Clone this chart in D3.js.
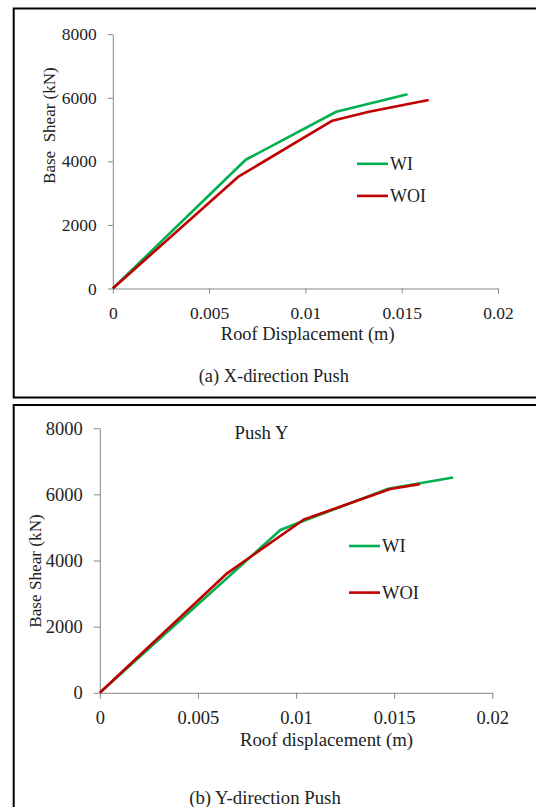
<!DOCTYPE html>
<html>
<head>
<meta charset="utf-8">
<script src="https://cdn.jsdelivr.net/npm/d3@7"></script>
<style>
  html, body { margin: 0; padding: 0; background: #ffffff; }
  svg { display: block; font-family: "Liberation Serif", "Times New Roman", serif; }
</style>
</head>
<body>
<div id="main_output"></div>
<script>
// tick values shared by both panels
var xTickValues = [0, 0.005, 0.01, 0.015, 0.02];
var yTickValues = [0, 2000, 4000, 6000, 8000];
var seriesNames = ["WI", "WOI"];

// (a) X-direction push - roof displacement (m) / base shear (kN)
var pushX_WI_disp  = [0, 0.0069, 0.0116, 0.0153];
var pushX_WI_shear = [0, 4050, 5560, 6110];
var pushX_WOI_disp  = [0, 0.0065, 0.0114, 0.0133, 0.0164];
var pushX_WOI_shear = [0, 3510, 5280, 5560, 5930];

// (b) Y-direction push
var pushY_WI_disp  = [0, 0.0092, 0.0104, 0.0147, 0.0180];
var pushY_WI_shear = [0, 4920, 5200, 6170, 6510];
var pushY_WOI_disp  = [0, 0.0065, 0.0104, 0.0148, 0.0163];
var pushY_WOI_shear = [0, 3620, 5240, 6160, 6310];

const green = "#00b050";
const red = "#c00000";
const axisGrey = "#868686";

var svg = d3.select("#main_output")
  .append("svg")
  .attr("width", 536)
  .attr("height", 807);

// panel frames (open on the right / bottom as in the scan)
svg.append("path")
  .attr("d", "M536,8.5 H13.7 V397.5 H536")
  .attr("fill", "none")
  .attr("stroke", "#000")
  .attr("stroke-width", 2);
svg.append("path")
  .attr("d", "M536,405 H13.7 V807")
  .attr("fill", "none")
  .attr("stroke", "#000")
  .attr("stroke-width", 2);

function zip(a, b) {
  return a.map(function(d, i) { return [d, b[i]]; });
}

function drawPanel(cfg) {
  var x = d3.scaleLinear().domain([0, 0.02]).range(cfg.xRange);
  var y = d3.scaleLinear().domain([0, 8000]).range(cfg.yRange);

  var g = svg.append("g");

  var xAxis = d3.axisBottom(x)
    .tickValues(xTickValues)
    .tickFormat(function(d) { return d === 0 ? "0" : String(+d.toFixed(3)); })
    .tickSizeInner(cfg.tick)
    .tickSizeOuter(0)
    .tickPadding(cfg.xPad);
  var yAxis = d3.axisLeft(y)
    .tickValues(yTickValues)
    .tickFormat(d3.format("d"))
    .tickSizeInner(cfg.tick)
    .tickSizeOuter(0)
    .tickPadding(cfg.yPad);

  var gx = g.append("g")
    .attr("transform", "translate(0," + y(0) + ")")
    .call(xAxis);
  var gy = g.append("g")
    .attr("transform", "translate(" + x(0) + ",0)")
    .call(yAxis);

  [gx, gy].forEach(function(a) {
    a.select(".domain").attr("stroke", axisGrey);
    a.selectAll(".tick line").attr("stroke", axisGrey);
    a.selectAll(".tick text")
      .attr("fill", "#222")
      .style("font-family", "Liberation Serif")
      .style("font-size", cfg.tickFont + "px");
  });
  gx.attr("font-family", null);
  gy.attr("font-family", null);

  var line = d3.line()
    .x(function(d) { return x(d[0]); })
    .y(function(d) { return y(d[1]); });

  cfg.series.forEach(function(s) {
    g.append("path")
      .datum(zip(s.disp, s.shear))
      .attr("fill", "none")
      .attr("stroke", s.colour)
      .attr("stroke-width", 2.6)
      .attr("stroke-linejoin", "round")
      .attr("d", line);
  });

  // legend
  cfg.series.forEach(function(s, i) {
    var ly = cfg.legendY[i];
    g.append("line")
      .attr("x1", cfg.legendX).attr("x2", cfg.legendX + 31)
      .attr("y1", ly).attr("y2", ly)
      .attr("stroke", s.colour)
      .attr("stroke-width", 2.6);
    g.append("text")
      .attr("x", cfg.legendX + 33)
      .attr("y", ly + 6)
      .attr("font-size", cfg.legendFont + "px")
      .attr("fill", "#222")
      .text(s.name);
  });

  g.append("text")
    .attr("x", cfg.xLabelPos[0])
    .attr("y", cfg.xLabelPos[1])
    .attr("text-anchor", "middle")
    .attr("font-size", cfg.labelFont + "px")
    .attr("fill", "#222")
    .text(cfg.xLabel);

  g.append("text")
    .attr("transform", "translate(" + cfg.yLabelPos[0] + "," + cfg.yLabelPos[1] + ") rotate(-90)")
    .attr("text-anchor", "middle")
    .attr("font-size", cfg.yLabelFont + "px")
    .attr("fill", "#222")
    .style("white-space", "pre")
    .text(cfg.yLabel);

  g.append("text")
    .attr("x", cfg.captionPos[0])
    .attr("y", cfg.captionPos[1])
    .attr("text-anchor", "middle")
    .attr("font-size", cfg.labelFont + "px")
    .attr("fill", "#222")
    .text(cfg.caption);

  if (cfg.title) {
    g.append("text")
      .attr("x", cfg.titlePos[0])
      .attr("y", cfg.titlePos[1])
      .attr("text-anchor", "middle")
      .attr("font-size", cfg.labelFont + "px")
      .attr("fill", "#222")
      .text(cfg.title);
  }
}

drawPanel({
  xRange: [112.8, 498], yRange: [288.5, 34.2],
  tick: 5, xPad: 13, yPad: 11, tickFont: 17.5,
  series: [
    {name: seriesNames[0], colour: green, disp: pushX_WI_disp, shear: pushX_WI_shear},
    {name: seriesNames[1], colour: red, disp: pushX_WOI_disp, shear: pushX_WOI_shear}
  ],
  legendX: 357, legendY: [163.8, 195.9], legendFont: 18,
  xLabel: "Roof Displacement (m)", xLabelPos: [307.7, 339.8], labelFont: 18.4,
  yLabel: "Base  Shear (kN)", yLabelPos: [55, 125.6], yLabelFont: 17,
  caption: "(a) X-direction Push", captionPos: [273.8, 382]
});

drawPanel({
  xRange: [99.8, 492.3], yRange: [692.8, 428.2],
  tick: 6, xPad: 12, yPad: 11, tickFont: 18.5,
  series: [
    {name: seriesNames[0], colour: green, disp: pushY_WI_disp, shear: pushY_WI_shear},
    {name: seriesNames[1], colour: red, disp: pushY_WOI_disp, shear: pushY_WOI_shear}
  ],
  legendX: 349, legendY: [546, 592.6], legendFont: 18.5,
  xLabel: "Roof displacement (m)", xLabelPos: [326.5, 745.5], labelFont: 18.8,
  yLabel: "Base Shear (kN)", yLabelPos: [41, 571], yLabelFont: 17.2,
  caption: "(b) Y-direction Push", captionPos: [265, 803.6],
  title: "Push Y", titlePos: [261.5, 439.4]
});
</script>
</body>
</html>
